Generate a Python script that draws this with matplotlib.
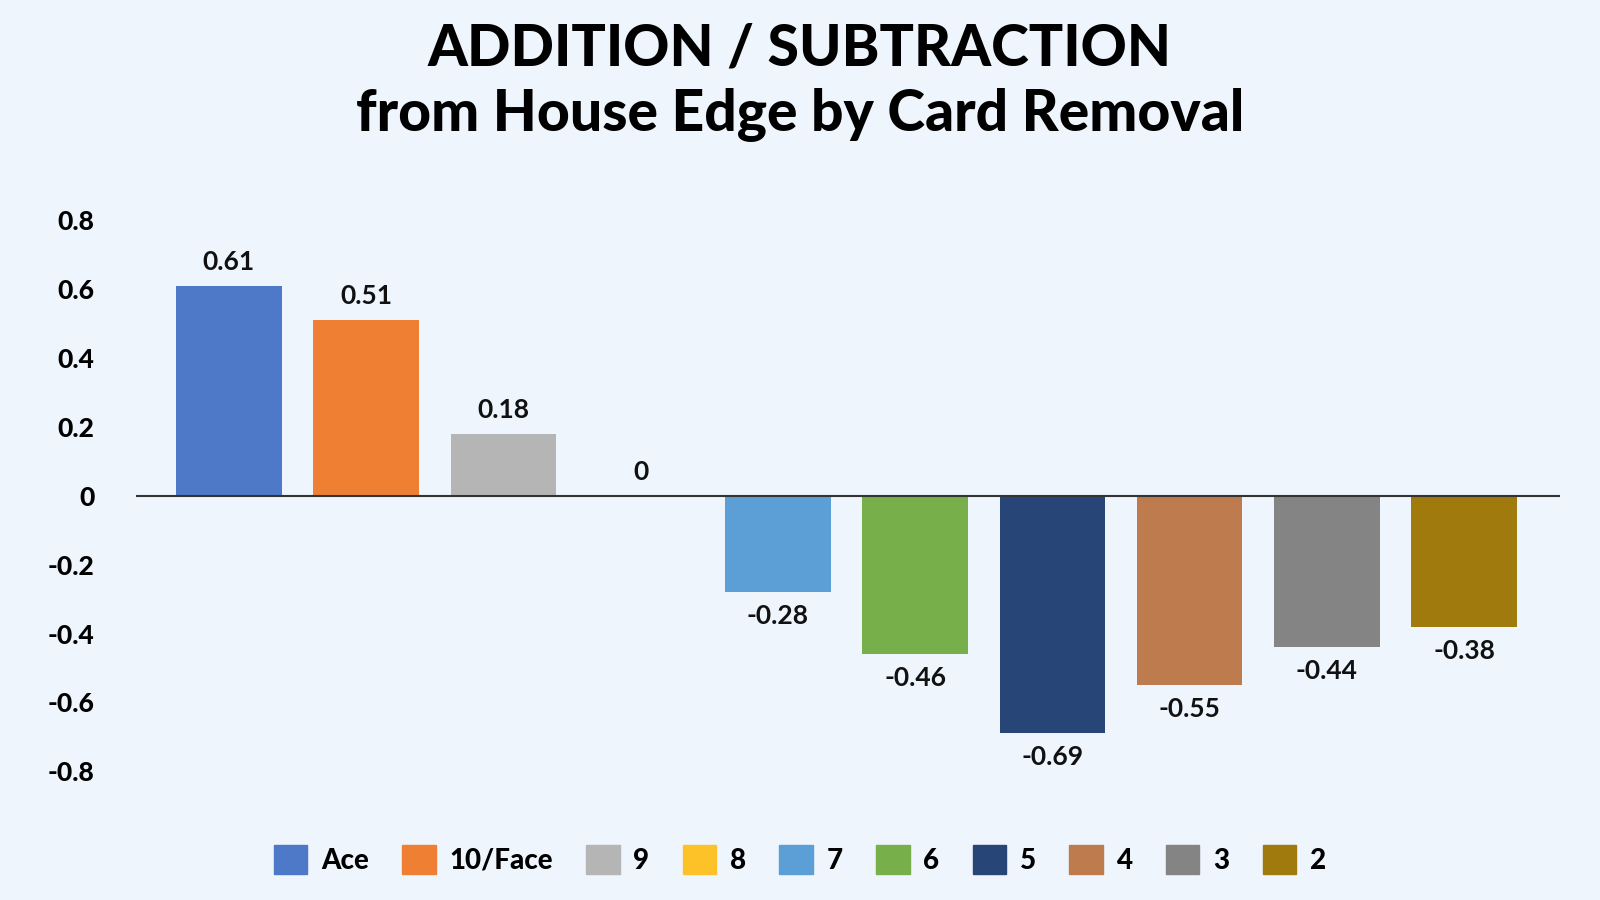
import matplotlib
matplotlib.use("Agg")
import matplotlib.pyplot as plt
from matplotlib.patches import Patch

categories = ["Ace", "10/Face", "9", "8", "7", "6", "5", "4", "3", "2"]
values = [0.61, 0.51, 0.18, 0, -0.28, -0.46, -0.69, -0.55, -0.44, -0.38]
labels = ["0.61", "0.51", "0.18", "0", "-0.28", "-0.46", "-0.69", "-0.55", "-0.44", "-0.38"]
colors = ["#4E79C8", "#EF8033", "#B5B5B5", "#FCC227", "#5B9FD6", "#77AF4B",
          "#274577", "#BE7B4D", "#848484", "#A07A0C"]
yticks = [0.8, 0.6, 0.4, 0.2, 0, -0.2, -0.4, -0.6, -0.8]

plt.rcParams["font.family"] = "Lato"
bg = "#EEF5FC"
fig = plt.figure(figsize=(16, 9), dpi=100, facecolor=bg)
ax = fig.add_axes([0.085, 0.143, 0.89, 0.612], facecolor=bg)
x = list(range(len(categories)))
ax.bar(x, values, width=0.77, color=colors)
for xi, v, l in zip(x, values, labels):
    off = 0.035 if v >= 0 else -0.035
    ax.text(xi, v + off, l, ha="center", va="bottom" if v >= 0 else "top",
            fontsize=19, fontweight="bold", color="#111")
ax.axhline(0, color="#333", lw=1.5)
ax.set_ylim(-0.8, 0.8)
ax.set_xlim(-0.677, 9.699)
ax.set_yticks(yticks)
ax.set_yticklabels([f"{t:g}" for t in yticks], fontsize=19, fontweight="heavy")
ax.tick_params(length=0, pad=30)
ax.set_xticks([])
for s in ax.spines.values():
    s.set_visible(False)
fig.suptitle("ADDITION / SUBTRACTION\nfrom House Edge by Card Removal",
             fontsize=41, fontweight="heavy", y=0.975, linespacing=1.3)
handles = [Patch(color=c, label=cat) for c, cat in zip(colors, categories)]
leg = fig.legend(handles=handles, loc="center", bbox_to_anchor=(0.5, 0.045), ncol=10,
                 frameon=False, prop={"size": 20, "weight": "heavy"},
                 handlelength=1.2, handleheight=1.2, columnspacing=1.2, handletextpad=0.5)
fig.savefig("out.png", dpi=100, facecolor=bg)
